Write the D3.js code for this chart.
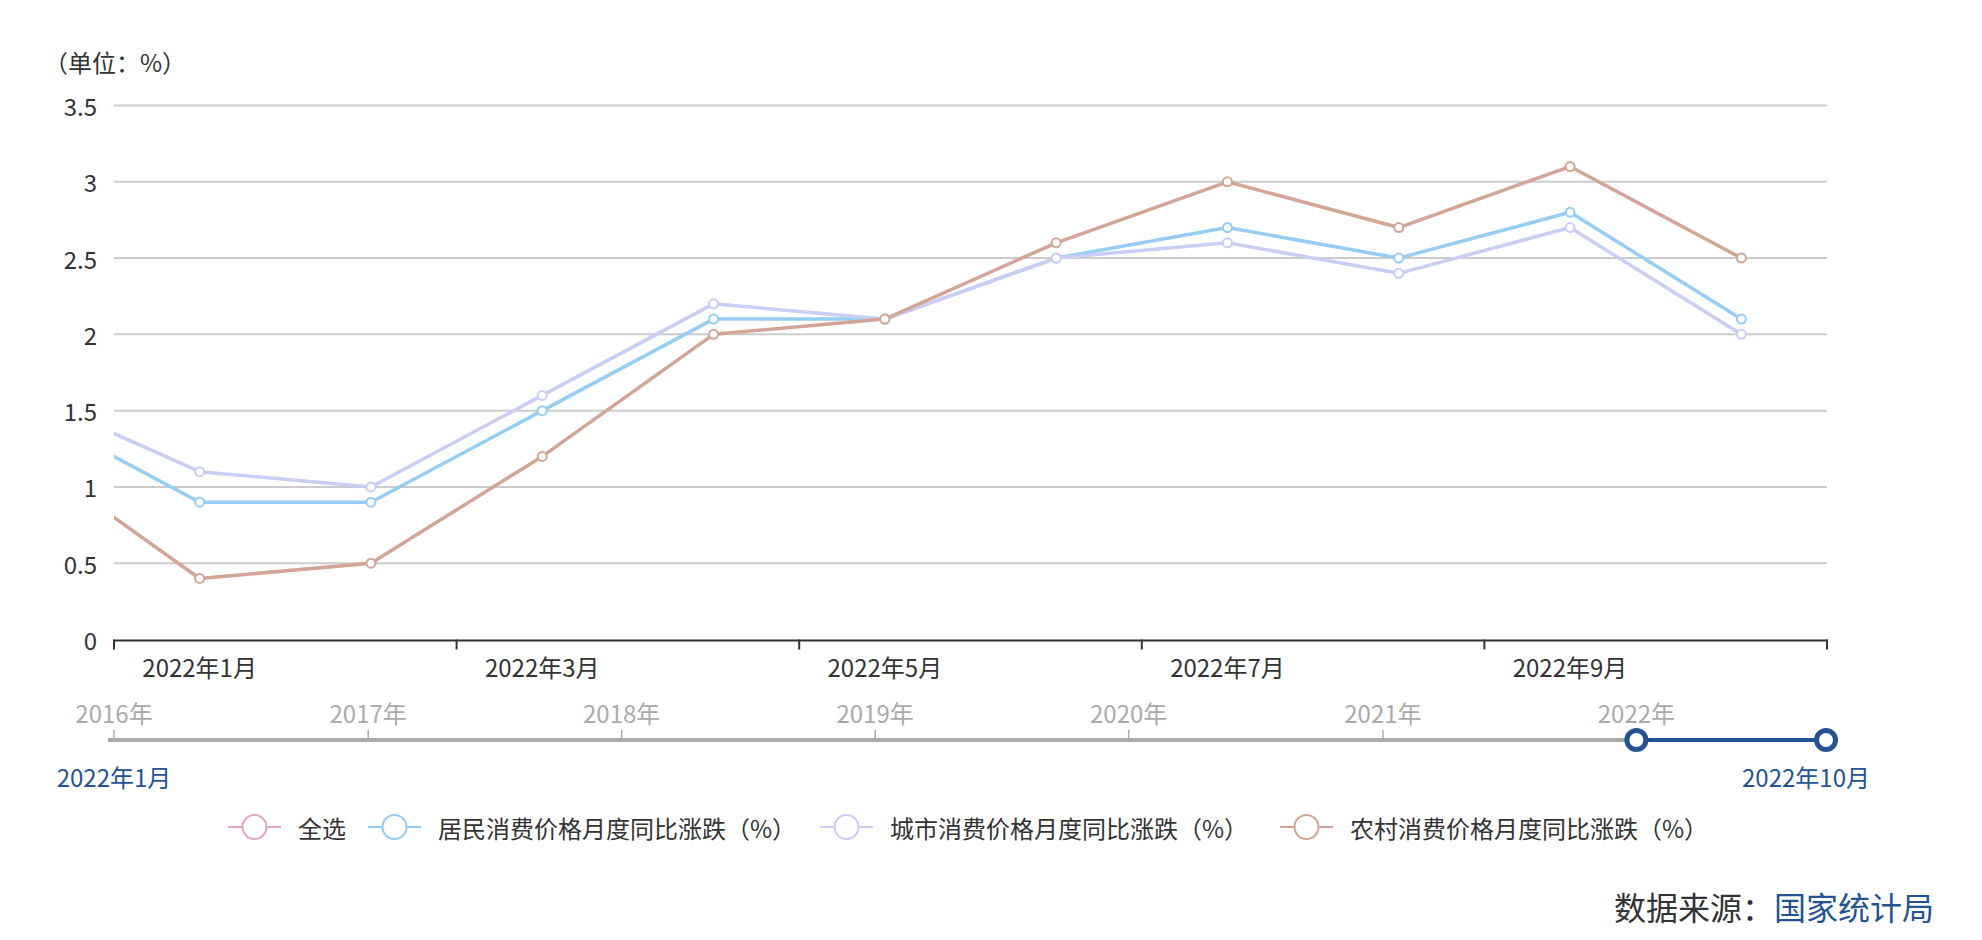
<!DOCTYPE html>
<html><head><meta charset="utf-8">
<script src="https://cdn.jsdelivr.net/npm/d3@7/dist/d3.min.js"></script>
<style>
html,body{margin:0;padding:0;background:#fff;}
svg{display:block;font-family:"Noto Sans CJK SC","Noto Sans",sans-serif;}
</style></head>
<body><svg id="chart" width="1982" height="940"></svg>
<script>
// ---- data ----
const months = ["2021年12月","2022年1月","2022年2月","2022年3月","2022年4月","2022年5月","2022年6月","2022年7月","2022年8月","2022年9月","2022年10月"];
const visibleMonths = months.slice(1);
const resident = [1.5, 0.9, 0.9, 1.5, 2.1, 2.1, 2.5, 2.7, 2.5, 2.8, 2.1];
const urban    = [1.6, 1.1, 1.0, 1.6, 2.2, 2.1, 2.5, 2.6, 2.4, 2.7, 2.0];
const rural    = [1.2, 0.4, 0.5, 1.2, 2.0, 2.1, 2.6, 3.0, 2.7, 3.1, 2.5];
const seriesNames = ["居民消费价格月度同比涨跌（%）","城市消费价格月度同比涨跌（%）","农村消费价格月度同比涨跌（%）"];
const seriesColors = ["#96cdf4","#cacdf4","#d3a596"];
const legendNames = ["全选"].concat(seriesNames);
const legendColors = ["#e1a5c7"].concat(seriesColors);
const yTicks = [0,0.5,1,1.5,2,2.5,3,3.5];
const sliderYears = [2016,2017,2018,2019,2020,2021,2022];
const sliderStart = new Date(2016,0,1), sliderEnd = new Date(2022,9,1);
const windowStart = new Date(2022,0,1), windowEnd = new Date(2022,9,1);
const rangeLabels = ["2022年1月","2022年10月"];

const svg = d3.select("#chart");
const L = 114, R = 1827, T = 105.5, B = 639.5;
const FS = 24;

// scales
const x = d3.scaleLinear().domain([-0.5, visibleMonths.length-0.5]).range([L,R]);
const y = d3.scaleLinear().domain([0,3.5]).range([B,T]);
const idx = months.map((m,i)=>i-1);

// unit label
svg.append("text").attr("x",44).attr("y",61).attr("dominant-baseline","central")
  .attr("font-size",FS).attr("fill","#333").text("（单位：%）");

// gridlines
svg.append("g").selectAll("line").data(yTicks.slice(1)).join("line")
  .attr("x1",L).attr("x2",R).attr("y1",d=>y(d)).attr("y2",d=>y(d))
  .attr("stroke","#cccccc").attr("stroke-width",2);

// y labels
svg.append("g").selectAll("text").data(yTicks).join("text")
  .attr("x",97).attr("y",d=>y(d)).attr("text-anchor","end").attr("dominant-baseline","central")
  .attr("font-size",FS).attr("fill","#333").text(d=>d3.format("~g")(d));

// x axis
svg.append("line").attr("x1",L).attr("x2",R+1).attr("y1",B+1).attr("y2",B+1).attr("stroke","#333").attr("stroke-width",2);
const xTickVals = d3.range(-0.5, visibleMonths.length, 2);
svg.append("g").selectAll("line").data(xTickVals).join("line")
  .attr("x1",d=>x(d)).attr("x2",d=>x(d)).attr("y1",B).attr("y2",B+10).attr("stroke","#333").attr("stroke-width",2);
svg.append("g").selectAll("text").data(visibleMonths.filter((m,i)=>i%2===0)).join("text")
  .attr("x",(d)=>x(visibleMonths.indexOf(d))).attr("y",666).attr("text-anchor","middle").attr("dominant-baseline","central")
  .attr("font-size",FS).attr("fill","#333").text(d=>d);

// clip
svg.append("clipPath").attr("id","clip").append("rect").attr("x",L).attr("y",0).attr("width",R-L+2).attr("height",B+10);

const line = d3.line().x((d,i)=>x(idx[i])).y(d=>y(d));
const allSeries = [resident, urban, rural];
const g = svg.append("g").attr("clip-path","url(#clip)");
allSeries.forEach((s,k)=>{
  g.append("path").datum(s).attr("d",line).attr("fill","none")
    .attr("stroke",seriesColors[k]).attr("stroke-width",3.5).attr("stroke-linejoin","round");
  g.append("g").selectAll("circle").data(s.map((v,i)=>({v,i})).filter(d=>idx[d.i]>=0)).join("circle")
    .attr("cx",d=>x(idx[d.i])).attr("cy",d=>y(d.v)).attr("r",4.5)
    .attr("fill","#fff").attr("stroke",seriesColors[k]).attr("stroke-width",2);
});

// data zoom slider
const sx = d3.scaleTime().domain([sliderStart, sliderEnd]).range([114,1826]);
const sy = 740;
svg.append("line").attr("x1",108).attr("x2",sx(windowStart)).attr("y1",sy).attr("y2",sy)
  .attr("stroke","#aaaaaa").attr("stroke-width",4);
svg.append("g").selectAll("line").data(sliderYears).join("line")
  .attr("x1",d=>sx(new Date(d,0,1))).attr("x2",d=>sx(new Date(d,0,1)))
  .attr("y1",sy-10).attr("y2",sy).attr("stroke","#aaaaaa").attr("stroke-width",1.5);
svg.append("g").selectAll("text").data(sliderYears).join("text")
  .attr("x",d=>sx(new Date(d,0,1))).attr("y",712).attr("text-anchor","middle").attr("dominant-baseline","central")
  .attr("font-size",FS).attr("fill","#aaaaaa").text(d=>d+"年");
svg.append("line").attr("x1",sx(windowStart)).attr("x2",sx(windowEnd)).attr("y1",sy).attr("y2",sy)
  .attr("stroke","#245394").attr("stroke-width",4);
svg.append("g").selectAll("circle").data([windowStart, windowEnd]).join("circle")
  .attr("cx",d=>sx(d)).attr("cy",sy).attr("r",9.5).attr("fill","#fff")
  .attr("stroke","#245394").attr("stroke-width",5);
svg.append("text").attr("x",114).attr("y",776).attr("text-anchor","middle").attr("dominant-baseline","central")
  .attr("font-size",FS).attr("fill","#245394").text(rangeLabels[0]);
svg.append("text").attr("x",1806).attr("y",776).attr("text-anchor","middle").attr("dominant-baseline","central")
  .attr("font-size",FS).attr("fill","#245394").text(rangeLabels[1]);

// legend
const legendX = [228, 368, 820, 1280];
const lg = svg.append("g").selectAll("g").data(legendNames).join("g")
  .attr("transform",(d,i)=>`translate(${legendX[i]},827)`);
lg.append("line").attr("x1",0).attr("x2",53).attr("y1",0).attr("y2",0)
  .attr("stroke",(d,i)=>legendColors[i]).attr("stroke-width",2);
lg.append("circle").attr("cx",26.5).attr("cy",0).attr("r",12).attr("fill","#fff")
  .attr("stroke",(d,i)=>legendColors[i]).attr("stroke-width",2);
lg.append("text").attr("x",70).attr("y",0).attr("dominant-baseline","central")
  .attr("font-size",FS).attr("fill","#333").text(d=>d);

// source
const src = svg.append("text").attr("x",1934).attr("y",906).attr("text-anchor","end").attr("dominant-baseline","central").attr("font-size",32);
src.append("tspan").attr("fill","#333").text("数据来源：");
src.append("tspan").attr("fill","#245394").text("国家统计局");
</script></body></html>
